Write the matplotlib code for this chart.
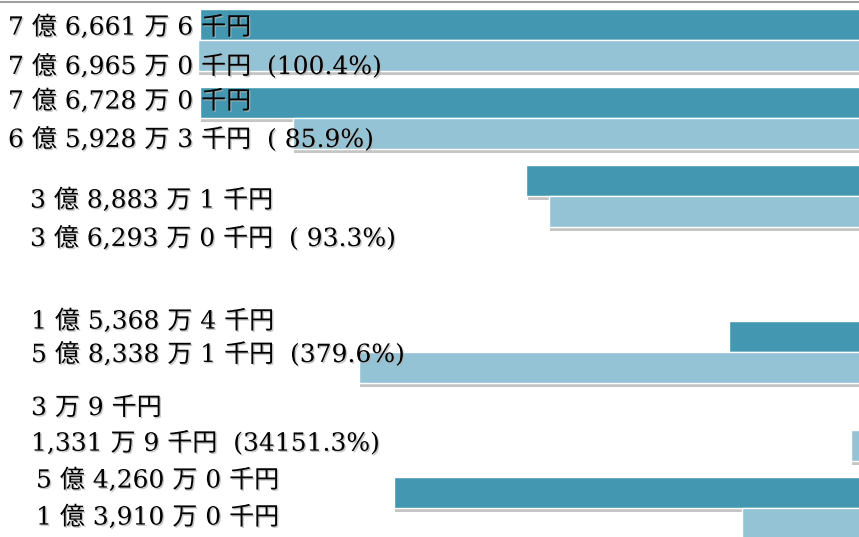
import matplotlib
matplotlib.use("Agg")
import matplotlib.pyplot as plt
import matplotlib.patheffects as pe
from matplotlib.transforms import blended_transform_factory

plt.rcParams['font.family'] = ['DejaVu Serif', 'Noto Sans CJK JP']

# values in 万円 (dark = current, light = comparison)
group_pos = [0, 1, 2, 4, 5, 6]
current = [76661.6, 76728.0, 38883.1, 15368.4, 3.9, 54260.0]
previous = [76965.0, 65928.3, 36293.0, 58338.1, 1331.9, 13910.0]

current_labels = [
    "7 億 6,661 万 6 千円",
    "7 億 6,728 万 0 千円",
    "3 億 8,883 万 1 千円",
    "1 億 5,368 万 4 千円",
    "3 万 9 千円",
    "5 億 4,260 万 0 千円",
]
previous_labels = [
    "7 億 6,965 万 0 千円  (100.4%)",
    "6 億 5,928 万 3 千円  ( 85.9%)",
    "3 億 6,293 万 0 千円  ( 93.3%)",
    "5 億 8,338 万 1 千円  (379.6%)",
    "1,331 万 9 千円  (34151.3%)",
    "1 億 3,910 万 0 千円",
]

# layout (pixels)
label_x = [8, 8, 30, 31, 31, 36]
cur_dy = [3, -1, 20, -15, -6, -12]
prev_dy = [11, 6, 27, -13, -2, -6]

dark = '#4397b0'
light = '#93c3d5'
px_per_group = 78.0
bar_h = 31 / px_per_group

fig = plt.figure(figsize=(8.59, 5.37), dpi=100)
ax = fig.add_axes([0, 0, 1, 1])
ax.axis('off')

shadow = [pe.SimplePatchShadow(offset=(1, -3), shadow_rgbFace='#808080', alpha=0.45), pe.Normal()]

cur_y = [p - bar_h / 2 for p in group_pos]
prev_y = [p + bar_h / 2 for p in group_pos]

bars1 = ax.barh(cur_y, current, height=bar_h, color=dark, edgecolor='white', linewidth=1, zorder=2)
for b in bars1:
    b.set_path_effects(shadow)
bars2 = ax.barh(prev_y, previous, height=bar_h, color=light, edgecolor='white', linewidth=1, zorder=3)
for b in bars2:
    b.set_path_effects(shadow)

# value 0 sits just right of the picture edge
ax.set_xlim(99884, 348)
ax.set_ylim(497 / px_per_group, -40 / px_per_group)

trans = blended_transform_factory(ax.transAxes, ax.transData)
text_fx = [pe.SimplePatchShadow(offset=(1, -1), shadow_rgbFace='#b0b0b0', alpha=0.7), pe.Normal()]
for i in range(len(group_pos)):
    ax.text(label_x[i] / 859, cur_y[i] + cur_dy[i] / px_per_group, current_labels[i],
            transform=trans, fontsize=18, va='center', ha='left', color='black',
            zorder=5, path_effects=text_fx)
    ax.text(label_x[i] / 859, prev_y[i] + prev_dy[i] / px_per_group, previous_labels[i],
            transform=trans, fontsize=18, va='center', ha='left', color='black',
            zorder=5, path_effects=text_fx)

fig.add_artist(plt.Line2D([0, 1], [1 - 1.5 / 537] * 2, color='#a0a0a0', lw=1.5))

fig.savefig('out.png', dpi=100)
